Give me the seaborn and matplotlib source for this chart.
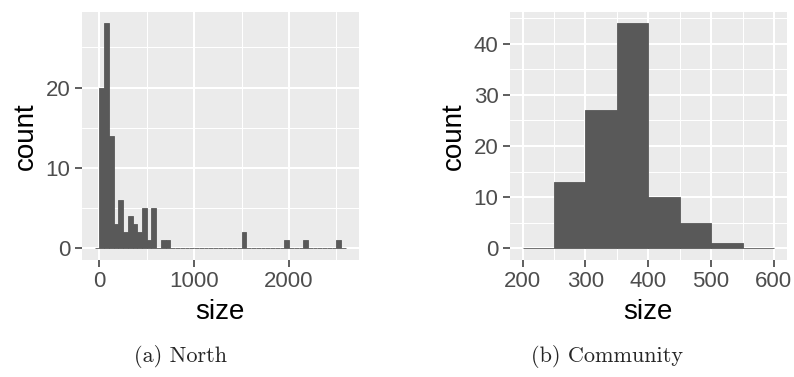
import matplotlib
matplotlib.use("Agg")
import matplotlib.pyplot as plt
import numpy as np
import pandas as pd
import seaborn as sns

# North panel: bin width 50, bins from -50 to 2600
north_edges = np.arange(-50, 2650, 50)
north_counts = [0, 20, 28, 14, 3, 6, 2, 4, 3, 2, 5, 1, 5, 0, 1, 1,
                0, 0, 0, 0, 0, 0, 0, 0, 0, 0, 0, 0, 0, 0, 0,
                2, 0, 0, 0, 0, 0, 0, 0, 0,
                1, 0, 0, 0,
                1, 0, 0, 0, 0, 0, 0,
                1, 0]

# Community panel: bin width 50, bins from 200 to 600
community_edges = np.arange(200, 650, 50)
community_counts = [0, 13, 27, 44, 10, 5, 1, 0]

north_ticks = [0, 1000, 2000]
north_yticks = [0, 10, 20]
community_ticks = [200, 300, 400, 500, 600]
community_yticks = [0, 10, 20, 30, 40]

BAR = "#595959"
PANEL = "#EBEBEB"

sns.set_theme(style="darkgrid", rc={
    "axes.facecolor": PANEL,
    "grid.color": "white",
    "axes.edgecolor": PANEL,
})
plt.rcParams["font.family"] = ["Liberation Sans", "DejaVu Sans"]

W, H = 794, 377
fig = plt.figure(figsize=(W / 100, H / 100), dpi=100)


def panel(rect, edges, counts, xticks, yticks, xlim, ylim):
    ax = fig.add_axes(rect)
    df = pd.DataFrame({"size": (edges[:-1] + edges[1:]) / 2,
                       "count": counts})
    sns.histplot(data=df, x="size", weights="count", bins=edges.tolist(),
                 ax=ax, color=BAR, alpha=1, edgecolor=BAR, linewidth=0.6)
    ax.set_xticks(xticks)
    ax.set_yticks(yticks)
    step_x = xticks[1] - xticks[0]
    step_y = yticks[1] - yticks[0]
    ax.set_xticks(np.arange(xticks[0] - step_x / 2, xticks[-1] + step_x, step_x),
                  minor=True)
    ax.set_yticks(np.arange(yticks[0] + step_y / 2, yticks[-1] + step_y, step_y),
                  minor=True)
    # limits last, so the minor ticks don't widen them
    ax.set_xlim(*xlim)
    ax.set_ylim(*ylim)
    ax.grid(which="major", color="white", linewidth=1.5)
    ax.grid(which="minor", color="white", linewidth=0.75)
    ax.set_axisbelow(True)
    for s in ax.spines.values():
        s.set_visible(False)
    ax.tick_params(which="major", length=4.7, width=1.1, color="#333333",
                   labelsize=16, labelcolor="#4D4D4D", pad=3.5,
                   bottom=True, left=True)
    ax.tick_params(which="minor", length=0, bottom=False, left=False)
    ax.set_xlabel("size", fontsize=20, color="black", labelpad=5)
    ax.set_ylabel("count", fontsize=20, color="black", labelpad=5)
    return ax


ax1 = panel([82 / W, 1 - 259.6 / H, 276.5 / W, 247.6 / H],
            north_edges, north_counts, north_ticks, north_yticks,
            (-182.5, 2732.5), (-1.4, 29.4))
ax2 = panel([510 / W, 1 - 259.6 / H, 276.5 / W, 247.6 / H],
            community_edges, community_counts, community_ticks,
            community_yticks, (180, 620), (-2.2, 46.2))

fig.text(181 / W, 1 - 356 / H, "(a) North", ha="center", va="center",
         family="cmr10", fontsize=16)
fig.text(607 / W, 1 - 356 / H, "(b) Community", ha="center", va="center",
         family="cmr10", fontsize=16)

fig.savefig("out.png", dpi=100, facecolor="white")
